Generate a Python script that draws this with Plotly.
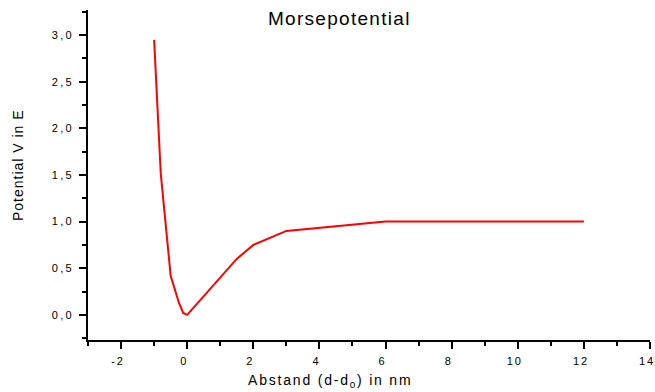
import plotly.graph_objects as go

# Data
abstand = [-1.0, -0.8, -0.5, -0.25, -0.12, 0.0, 1.5, 2.0, 3.0, 6.0, 12.0]
potential = [2.95, 1.52, 0.42, 0.13, 0.02, 0.0, 0.60, 0.75, 0.90, 1.0, 1.0]

x_tickvals = [-2, 0, 2, 4, 6, 8, 10, 12, 14]
x_ticktext = ["-2", "0", "2", "4", "6", "8", "10", "12", "14"]
y_tickvals = [0.0, 0.5, 1.0, 1.5, 2.0, 2.5, 3.0]
y_ticktext = ["0,0", "0,5", "1,0", "1,5", "2,0", "2,5", "3,0"]

title_text = "Morsepotential"
x_label = "Abstand (d-d<sub>0</sub>) in nm"
y_label = "Potential V in E"

font = "Liberation Sans, Arial, sans-serif"

fig = go.Figure()
fig.add_trace(go.Scatter(x=abstand, y=potential, mode="lines",
                         line=dict(color="#ff0000", width=2), showlegend=False))

axis_common = dict(showline=True, linecolor="black", linewidth=1.6, mirror=False,
                   showgrid=False, zeroline=False, ticks="outside", ticklen=7,
                   tickwidth=1.5, tickcolor="black", tickmode="array",
                   automargin=False,
                   ticklabeloverflow="allow", ticklabelstandoff=3,
                   tickfont=dict(family=font, size=11, color="black"))

fig.update_layout(
    width=655, height=392,
    margin=dict(l=88, r=5, t=10, b=52, autoexpand=False),
    plot_bgcolor="white", paper_bgcolor="white",
    xaxis=dict(range=[-3, 14], tickvals=x_tickvals, ticktext=x_ticktext,
               ticklabelshift=-3,
               minor=dict(dtick=1, tick0=0, ticks="outside", ticklen=4,
                          tickcolor="black", tickwidth=1.5),
               **axis_common),
    yaxis=dict(range=[-0.27, 3.27], tickvals=y_tickvals, ticktext=y_ticktext,
               minor=dict(dtick=0.25, tick0=0, ticks="outside", ticklen=4,
                          tickcolor="black", tickwidth=1.5),
               **axis_common),
    annotations=[
        dict(text=title_text, xref="paper", yref="paper", x=0.447, y=1.0, yshift=-8,
             xanchor="center", yanchor="middle", showarrow=False,
             font=dict(family=font, size=19, color="black")),
        dict(text=x_label, xref="paper", yref="paper", x=0.43, y=0, yshift=-41,
             xanchor="center", yanchor="middle", showarrow=False,
             font=dict(family=font, size=14, color="black")),
        dict(text=y_label, xref="paper", yref="paper", x=0, xshift=-70, y=0.53,
             xanchor="center", yanchor="middle", showarrow=False, textangle=-90,
             font=dict(family=font, size=14, color="black")),
    ],
)

post = """
var gd = document.getElementById('{plot_id}');
function spacing() {
  gd.querySelectorAll('.xtick text').forEach(function(t){ t.style.letterSpacing = '1.8px'; });
  gd.querySelectorAll('.ytick text').forEach(function(t){ t.style.letterSpacing = '2.3px'; });
  var a = gd.querySelectorAll('.annotation');
  a.forEach(function(g){
    var idx = g.getAttribute('data-index');
    var t = g.querySelector('text');
    if (!t) return;
    if (idx === '0') t.style.letterSpacing = '1.3px';
    if (idx === '1') t.style.letterSpacing = '1.8px';
    if (idx === '2') t.style.letterSpacing = '1.0px';
  });
}
spacing();
gd.on('plotly_afterplot', spacing);
setTimeout(spacing, 50);
"""

fig.write_html("out.html", post_script=post)
